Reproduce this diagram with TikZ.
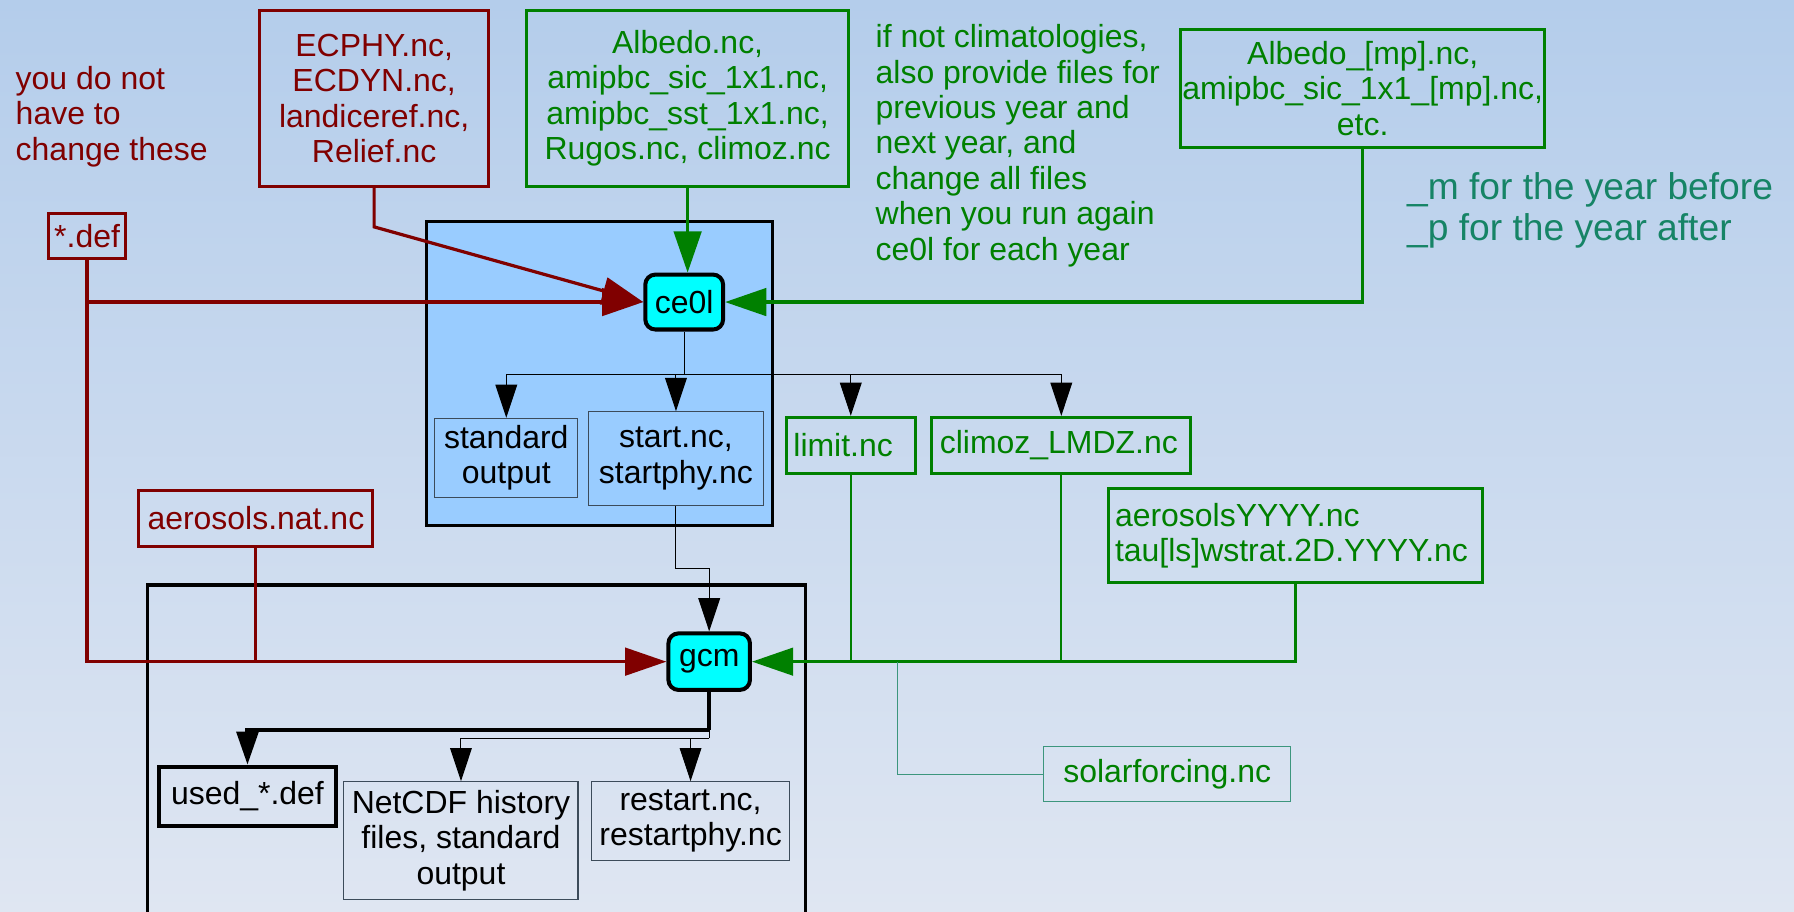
\documentclass[tikz,border=0pt]{standalone}
\usepackage{fontspec}
\setmainfont{Liberation Sans}
\usetikzlibrary{arrows.meta}

\definecolor{darkred}{RGB}{128,0,0}
\definecolor{webgreen}{RGB}{0,128,0}
\definecolor{tealgreen}{RGB}{22,132,102}
\definecolor{solarteal}{RGB}{60,150,125}
\definecolor{framefill}{RGB}{153,204,255}
\definecolor{runcyan}{RGB}{0,255,255}
\definecolor{thinframe}{RGB}{60,75,90}
\definecolor{bgtop}{RGB}{180,205,235}
\definecolor{bgmid}{RGB}{221,229,241}
\definecolor{bgbot}{RGB}{223,230,242}

\newcommand{\diagfont}{\fontsize{15.9}{17.6}\selectfont}
\newcommand{\notefont}{\fontsize{18.5}{20.5}\selectfont}

\begin{document}
\begin{tikzpicture}[x=0.02cm, y=-0.02cm,
    redbox/.style={draw=darkred, line width=1.5pt, text=darkred, inner sep=0pt, align=center, font=\diagfont},
    greenbox/.style={draw=webgreen, line width=1.5pt, text=webgreen, inner sep=0pt, align=center, font=\diagfont},
    filebox/.style={draw=thinframe, line width=0.5pt, inner sep=0pt, align=center, font=\diagfont},
    runbox/.style={draw=black, fill=runcyan, line width=2pt, rounded corners=5pt, inner sep=0pt, font=\diagfont},
    notetext/.style={font=\diagfont, align=left, anchor=base west, inner sep=0pt},
    frame/.style={draw=black, line width=1.5pt},
    redline/.style={draw=darkred, line width=1.6pt, -{Triangle[length=0.72cm, width=0.48cm]}},
    greenline/.style={draw=webgreen, line width=1.6pt, -{Triangle[length=0.72cm, width=0.48cm]}},
    redwire/.style={draw=darkred, line width=1.6pt},
    greenwire/.style={draw=webgreen, line width=1.1pt},
    solarwire/.style={draw=solarteal, line width=0.5pt},
    wire/.style={draw=black, line width=0.5pt},
    feed/.style={draw=black, line width=0.5pt, -{Triangle[length=0.58cm, width=0.38cm]}},
    thickfeed/.style={draw=black, line width=2pt, -{Triangle[length=0.58cm, width=0.38cm]}}
]
\useasboundingbox (0,0) rectangle (1568,797);
\shade[top color=bgtop, middle color=bgmid, bottom color=bgbot] (0,0) rectangle (1568,797);

% the two program frames
\draw[frame, fill=framefill] (373,194) rectangle (675,459.5);
\draw[frame] (128.7,797) |- (703.8,511.3) -- (703.8,797);

% notes
\node[notetext, text=darkred] (keepnote) at (13.4,140)
    {you do not\\have to\\change these};
\node[notetext, text=webgreen] (yearnote) at (765,227.3)
    {if not climatologies,\\also provide files for\\previous year and\\next year, and\\change all files\\when you run again\\ce0l for each year};
\node[notetext, text=tealgreen, font=\notefont] (mpnote) at (1229.5,210)
    {\_m for the year before\\\_p for the year after};

% input files
\node[redbox, minimum width=4cm, minimum height=3.08cm] (ecphy) at (327,86)
    {ECPHY.nc,\\ECDYN.nc,\\landiceref.nc,\\Relief.nc};
\node[greenbox, minimum width=5.64cm, minimum height=3.08cm] (albedo) at (601,86)
    {Albedo.nc,\\amipbc\_sic\_1x1.nc,\\amipbc\_sst\_1x1.nc,\\Rugos.nc, climoz.nc};
\node[greenbox, minimum width=6.36cm, minimum height=2.064cm] (albedomp) at (1191,77.2)
    {Albedo\_[mp].nc,\\amipbc\_sic\_1x1\_[mp].nc,\\etc.};
\node[redbox, minimum width=1.344cm, minimum height=0.78cm] (def) at (76.1,206.5) {*.def};
\node[redbox, minimum width=4.094cm, minimum height=0.978cm] (aeronat) at (223.65,453.05) {aerosols.nat.nc};

% programs
\node[runbox, minimum width=1.36cm, minimum height=0.96cm] (ce0l) at (598,264) {ce0l};
\node[runbox, minimum width=1.426cm, minimum height=0.988cm] (gcm) at (619.85,578.3) {gcm};

% ce0l outputs
\node[filebox, minimum width=2.5cm, minimum height=1.382cm] (stdout) at (442.5,400.2) {standard\\output};
\node[filebox, minimum width=3.072cm, minimum height=1.638cm] (start) at (590.8,400.75) {start.nc,\\startphy.nc};
\node[greenbox, align=left, inner xsep=0.12cm, text width=2.006cm, minimum height=0.978cm] (limit) at (743.6,389.25) {limit.nc};
\node[greenbox, align=left, inner xsep=0.14cm, text width=4.248cm, minimum height=0.978cm] (climoz) at (927.6,389.25) {climoz\_LMDZ.nc};
\node[greenbox, align=left, inner xsep=0.12cm, text width=6.298cm, minimum height=1.644cm] (aeroyyyy) at (1131.95,468.2)
    {aerosolsYYYY.nc\\tau[ls]wstrat.2D.YYYY.nc};
\node[filebox, draw=solarteal, text=webgreen, minimum width=4.314cm, minimum height=0.962cm] (solar) at (1020.15,676.65) {solarforcing.nc};

% gcm outputs
\node[filebox, draw=black, line width=2pt, minimum width=3.104cm, minimum height=1.032cm] (used) at (216.3,695.9) {used\_*.def};
\node[filebox, minimum width=4.092cm, minimum height=2.052cm] (netcdf) at (402.9,734.5) {NetCDF history\\files, standard\\output};
\node[filebox, minimum width=3.47cm, minimum height=1.37cm] (restart) at (603.55,717.45) {restart.nc,\\restartphy.nc};

% red inputs
\draw[redline] (def.south) |- (ce0l.west);
\draw[redline] (def.south) |- (gcm.west);
\draw[redline] (ecphy.south) -- ++(0,34) -- (ce0l.west);
\draw[redwire] (aeronat.south) -- (aeronat.south |- gcm.west);

% green inputs
\draw[greenline] (albedo.south) -- (albedo.south |- ce0l.north);
\draw[greenline] (albedomp.south) |- (ce0l.east);
\draw[greenline] (aeroyyyy.south) |- (gcm.east);
\draw[greenwire] (limit.south) -- (limit.south |- gcm.east);
\draw[greenwire] (climoz.south) -- (climoz.south |- gcm.east);
\coordinate (solarjoin) at (784.5,578.3);
\draw[solarwire] (solar.west) -| (solarjoin);

% ce0l writes
\path (ce0l.south) ++(0,38) coordinate (ce0lfork);
\draw[wire] (ce0l.south) -- (ce0lfork);
\draw[feed] (ce0lfork) -| (stdout.north);
\draw[feed] (ce0lfork) -| (start.north);
\draw[feed] (ce0lfork) -| (limit.north);
\draw[feed] (ce0lfork) -| (climoz.north);
\draw[feed] (start.south) -- ++(0,55) -| (gcm.north);

% gcm writes
\path (gcm.south) ++(0,33.6) coordinate (gcmfork);
\path (gcmfork) ++(0,6.7) coordinate (gcmfork2);
\draw[wire, line width=2pt] (gcm.south) -- (gcmfork);
\draw[thickfeed] (gcmfork) -| (used.north);
\draw[wire] (gcmfork) -- (gcmfork2);
\draw[feed] (gcmfork2) -| (netcdf.north);
\draw[feed] (gcmfork2) -| (restart.north);
\end{tikzpicture}
\end{document}
